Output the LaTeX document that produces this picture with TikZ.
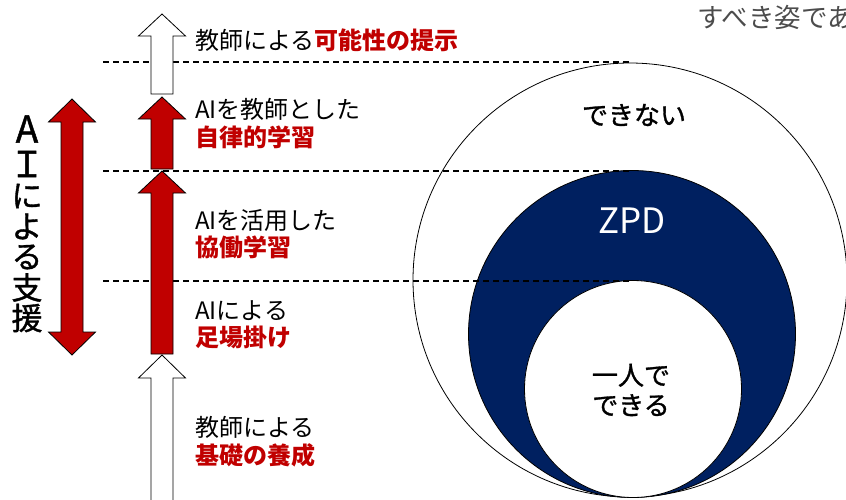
\documentclass[tikz,border=0pt]{standalone}
\usepackage{fontspec}
\setmainfont{Noto Sans CJK JP}
\newfontfamily\jpmed[FakeBold=1.2]{Noto Sans CJK JP}
\definecolor{myred}{HTML}{C00000}
\definecolor{mynavy}{HTML}{002060}
\newcommand\blkup[5]{% cx, tip, headbase, bottom, fill
  \draw[blkarrow, fill=#5] (#1,#2) -- ({#1+23.5},#3) -- ({#1+11},#3) -- ({#1+11},#4)
    -- ({#1-11},#4) -- ({#1-11},#3) -- ({#1-23.5},#3) -- cycle;}
\begin{document}
\begin{tikzpicture}[x=1pt,y=-1pt,
  blkarrow/.style={draw=black, line width=0.8pt, line join=miter},
  level/.style={draw=black, line width=1.2pt, dash pattern=on 6pt off 4pt},
  lbl/.style={anchor=west, inner sep=0pt, align=left, font=\fontsize{24}{27.5}\selectfont},
  vch/.style={inner sep=0pt, font=\jpmed\fontsize{31}{31}\selectfont},
  ctext/.style={inner sep=0pt, align=center, font=\jpmed\fontsize{26}{30}\selectfont}]
\useasboundingbox (0,0) rectangle (846,499);
% circles
\draw[fill=white, line width=0.8pt] (630,280) circle[radius=217];
\draw[fill=mynavy, line width=0.8pt] (632,334) circle[radius=163.5];
\draw[fill=white, line width=0.8pt] (633,389) circle[radius=108.5];
% level lines
\coordinate (l1a) at (103,62);  \coordinate (l1b) at (630,62);
\coordinate (l2a) at (103,171); \coordinate (l2b) at (630,171);
\coordinate (l3a) at (103,281); \coordinate (l3b) at (630,281);
\draw[level] (l1a) -- (l1b);
\draw[level] (l2a) -- (l2b);
\draw[level] (l3a) -- (l3b);
% stage arrows
\blkup{162}{14}{36}{94}{white}
\blkup{162}{97}{119}{169}{myred}
\blkup{162}{171}{193}{354}{myred}
\blkup{162}{355}{378}{510}{white}
% double arrow
\draw[blkarrow, fill=myred] (72,99) -- (95.5,122) -- (83,122) -- (83,332) -- (95.5,332)
  -- (72,355) -- (48.5,332) -- (61,332) -- (61,122) -- (48.5,122) -- cycle;
% vertical label
\node[vch, font=\jpmed\fontsize{37}{37}\selectfont] (v1) at (27,129) {A};
\node[vch, font=\jpmed\fontsize{36}{36}\selectfont] (v2) at (27,164) {Ｉ};
\node[vch] (v3) at (27,196) {に};
\node[vch] (v4) at (27,226.5) {よ};
\node[vch] (v5) at (27,257) {る};
\node[vch] (v6) at (27,287.5) {支};
\node[vch] (v7) at (27,318) {援};
% stage labels
\node[lbl] (t1) at (195,40) {教師による\textcolor{myred}{\bfseries 可能性の提示}};
\node[lbl] (t2) at (195,123.5) {AIを教師とした\\\textcolor{myred}{\bfseries 自律的学習}};
\node[lbl] (t3) at (195,234) {AIを活用した\\\textcolor{myred}{\bfseries 協働学習}};
\node[lbl] (t4) at (195,325) {AIによる\\\textcolor{myred}{\bfseries 足場掛け}};
\node[lbl] (t5) at (195,441.5) {教師による\\\textcolor{myred}{\bfseries 基礎の養成}};
% circle labels
\node[ctext] (cant) at (634,115) {できない};
\node[inner sep=0pt, text=white, font=\fontsize{35}{35}\selectfont] (zpd) at (632,221) {ZPD};
\node[ctext] (can) at (631,390) {一人で\\できる};
% cut-off caption (cut by the right edge, as in the reference)
\node[anchor=west, inner sep=0pt, text=black!70, font=\fontsize{26.5}{26.5}\selectfont] (cap) at (697,17) {すべき姿であ};
\end{tikzpicture}
\end{document}
